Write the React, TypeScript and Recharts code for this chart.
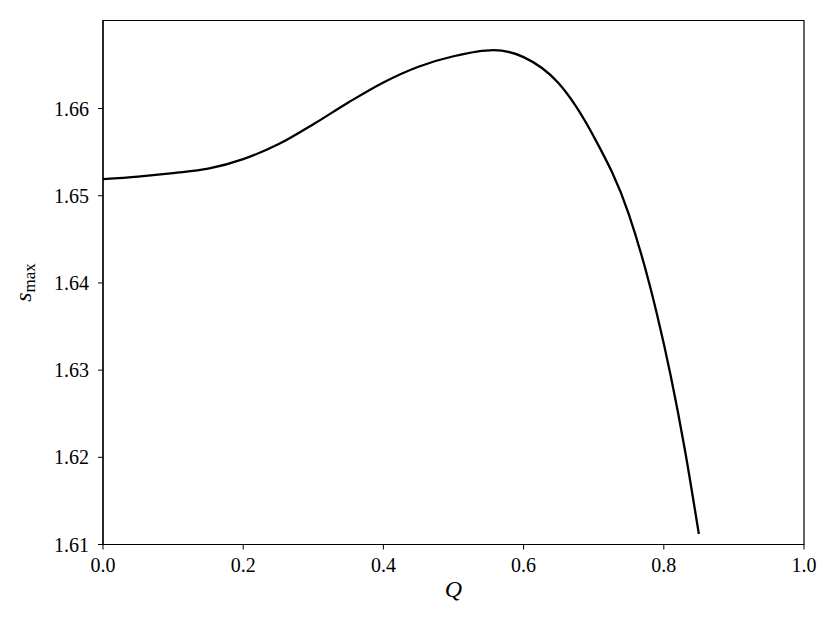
import { LineChart, Line, XAxis, YAxis, Label, ReferenceArea } from 'recharts'

const qValues = [0, 0.05, 0.1, 0.15, 0.2, 0.25, 0.3, 0.35, 0.4, 0.45, 0.5, 0.557, 0.6, 0.65, 0.7, 0.75, 0.79, 0.81, 0.83, 0.85]
const sMaxValues = [1.6519, 1.6522, 1.6526, 1.6531, 1.6542, 1.6559, 1.6582, 1.6607, 1.663, 1.6648, 1.666, 1.6667, 1.6659, 1.6629, 1.6568, 1.6479, 1.6365, 1.6293, 1.6209, 1.6112]

const xTicks = [0, 0.2, 0.4, 0.6, 0.8, 1.0]
const yTicks = [1.61, 1.62, 1.63, 1.64, 1.65, 1.66]
const xDomain = [0, 1]
const yDomain = [1.61, 1.6701]

const FONT = '"Liberation Serif", "DejaVu Serif", serif'
const tickStyle = { fontSize: 20, fill: '#000', fontFamily: FONT }
const axisLine = { stroke: '#000', strokeWidth: 1.2 }

const data = qValues.map((q, i) => ({ q, s: sMaxValues[i] }))

function YLabel({ viewBox }: any) {
  const cy = viewBox.y + viewBox.height / 2
  return (
    <text x={31} y={cy} transform={`rotate(-90 31 ${cy})`} textAnchor="middle" fontFamily={FONT} fontSize={24} fill="#000">
      <tspan fontStyle="italic">s</tspan>
      <tspan fontSize={17} dy={4}>max</tspan>
    </text>
  )
}

function XLabel({ viewBox }: any) {
  const cx = viewBox.x + viewBox.width / 2
  return (
    <text x={cx} y={597} textAnchor="middle" fontFamily={FONT} fontSize={24} fontStyle="italic" fill="#000">
      Q
    </text>
  )
}

export default function App() {
  return (
    <div style={{ position: 'absolute', left: 0, top: 0, background: '#fff' }}>
      <LineChart width={831} height={618} data={data} margin={{ top: 20.5, right: 27, left: 43, bottom: 33.5 }}>
        <XAxis
          dataKey="q" type="number" domain={xDomain} ticks={xTicks}
          tickFormatter={(v: number) => v.toFixed(1)}
          tick={tickStyle} axisLine={axisLine} tickLine={{ stroke: '#000' }}
          tickSize={5} tickMargin={8} height={40} allowDataOverflow
        >
          <Label content={<XLabel />} />
        </XAxis>
        <YAxis
          type="number" domain={yDomain} ticks={yTicks}
          tickFormatter={(v: number) => v.toFixed(2)}
          tick={tickStyle} axisLine={axisLine} tickLine={{ stroke: '#000' }}
          tickSize={5} tickMargin={9} width={60} allowDataOverflow
        >
          <Label content={<YLabel />} />
        </YAxis>
        {/* plot frame */}
        <ReferenceArea x1={xDomain[0]} x2={xDomain[1]} y1={yDomain[0]} y2={yDomain[1]} fill="none" fillOpacity={0} stroke="#000" strokeWidth={1.2} strokeOpacity={1} />
        <Line dataKey="s" type="monotone" stroke="#000" strokeWidth={2.3} dot={false} isAnimationActive={false} />
      </LineChart>
    </div>
  )
}
